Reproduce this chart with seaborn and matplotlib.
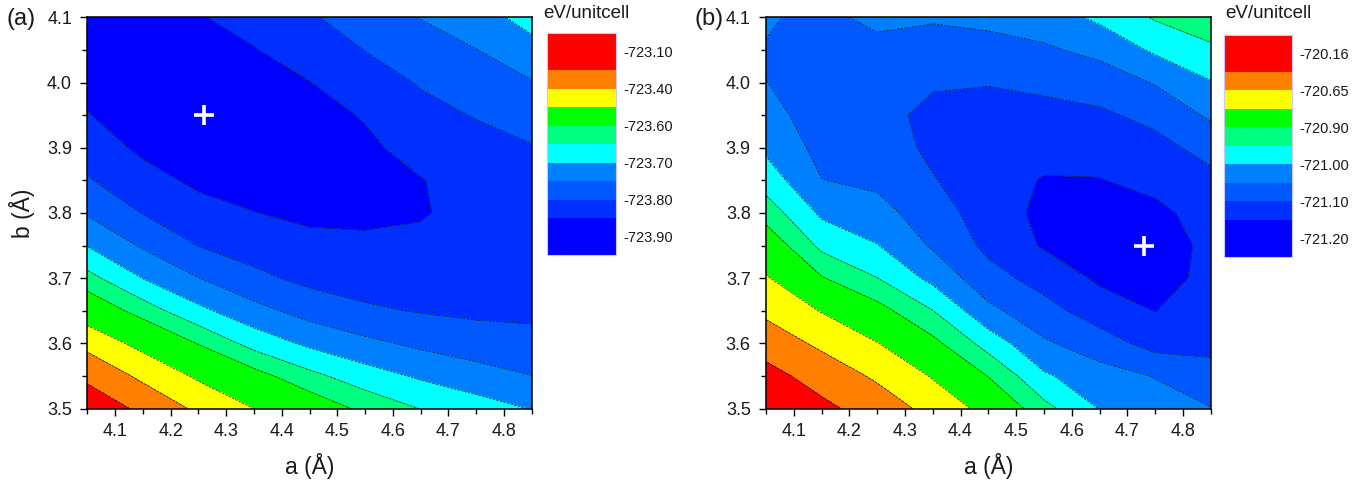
import numpy as np
import matplotlib
matplotlib.use("Agg")
import matplotlib.pyplot as plt
import seaborn as sns
from matplotlib.colors import ListedColormap, BoundaryNorm
from matplotlib.cm import ScalarMappable
from matplotlib.ticker import MultipleLocator

# ---------------- data ----------------
a_vals = [4.05, 4.15, 4.25, 4.35, 4.45, 4.55, 4.65, 4.75, 4.85]
b_vals = [3.50, 3.55, 3.60, 3.65, 3.70, 3.75, 3.80, 3.85, 3.90, 3.95, 4.00, 4.05, 4.10]

# panel (a): one list per a-column, values from b=3.50 up to b=4.10 (eV/unitcell)
energy_a_cols = [
    [-723.12, -723.29, -723.44, -723.55, -723.633, -723.702, -723.755, -723.796, -723.823, -723.848, -723.865, -723.872, -723.870],
    [-723.29, -723.429, -723.528, -723.624, -723.701, -723.756, -723.802, -723.832, -723.860, -723.875, -723.880, -723.880, -723.875],
    [-723.426, -723.514, -723.603, -723.688, -723.749, -723.801, -723.832, -723.860, -723.875, -723.885, -723.880, -723.870, -723.853],
    [-723.50, -723.579, -723.669, -723.734, -723.788, -723.822, -723.849, -723.868, -723.878, -723.880, -723.872, -723.852, -723.835],
    [-723.56, -723.636, -723.710, -723.769, -723.813, -723.837, -723.860, -723.872, -723.873, -723.865, -723.851, -723.830, -723.805],
    [-723.613, -723.678, -723.738, -723.793, -723.820, -723.843, -723.858, -723.862, -723.858, -723.847, -723.825, -723.799, -723.780],
    [-723.651, -723.707, -723.760, -723.803, -723.823, -723.842, -723.853, -723.852, -723.835, -723.816, -723.796, -723.778, -723.748],
    [-723.677, -723.730, -723.775, -723.810, -723.825, -723.835, -723.838, -723.832, -723.820, -723.797, -723.774, -723.751, -723.723],
    [-723.702, -723.749, -723.788, -723.808, -723.818, -723.822, -723.822, -723.816, -723.803, -723.779, -723.753, -723.718, -723.680],
]

# panel (b)
energy_b_cols = [
    [-720.10, -720.30, -720.527, -720.695, -720.792, -720.859, -720.922, -720.973, -721.010, -721.032, -721.049, -721.052, -721.046],
    [-720.33, -720.52, -720.692, -720.807, -720.896, -720.963, -721.009, -721.049, -721.065, -721.075, -721.078, -721.072, -721.060],
    [-720.53, -720.683, -720.797, -720.880, -720.949, -720.998, -721.033, -721.060, -721.075, -721.085, -721.080, -721.062, -721.040],
    [-720.717, -720.810, -720.885, -720.949, -721.014, -721.056, -721.076, -721.097, -721.110, -721.112, -721.095, -721.070, -721.045],
    [-720.84, -720.902, -720.971, -721.038, -721.082, -721.112, -721.125, -721.130, -721.125, -721.115, -721.098, -721.064, -721.040],
    [-720.934, -720.993, -721.043, -721.082, -721.119, -721.155, -721.162, -721.153, -721.134, -721.114, -721.090, -721.057, -721.025],
    [-721.002, -721.030, -721.076, -721.126, -721.158, -721.170, -721.168, -721.152, -721.131, -721.108, -721.077, -721.037, -720.990],
    [-721.030, -721.052, -721.119, -721.151, -721.172, -721.178, -721.162, -721.136, -721.115, -721.087, -721.047, -720.992, -720.945],
    [-721.048, -721.084, -721.112, -721.125, -721.135, -721.137, -721.130, -721.113, -721.084, -721.042, -721.003, -720.959, -720.920],
]

# contour band limits (lowest band first)
levels_a = [-724.50, -723.85, -723.80, -723.75, -723.70, -723.65, -723.60, -723.50, -723.40, -723.25, -722.50]
levels_b = [-721.50, -721.15, -721.10, -721.05, -721.00, -720.95, -720.90, -720.80, -720.65, -720.40, -719.50]

# colour-scale slots shown in the legend bar (bottom to top)
cbar_bounds_a = [-723.95, -723.90, -723.85, -723.80, -723.75, -723.70, -723.65, -723.60, -723.50, -723.40, -723.25, -723.10, -722.95]
cbar_bounds_b = [-721.25, -721.20, -721.15, -721.10, -721.05, -721.00, -720.95, -720.90, -720.80, -720.65, -720.40, -720.16, -719.92]
cbar_labels_a = [-723.90, -723.80, -723.70, -723.60, -723.40, -723.10]
cbar_labels_b = [-721.20, -721.10, -721.00, -720.90, -720.65, -720.16]

# minima markers
min_a = (4.26, 3.95)
min_b = (4.73, 3.75)

x_ticks = [4.1, 4.2, 4.3, 4.4, 4.5, 4.6, 4.7, 4.8]
y_ticks = [3.5, 3.6, 3.7, 3.8, 3.9, 4.0, 4.1]

# ---------------- style ----------------
sns.set_theme(style="ticks")
plt.rcParams['font.family'] = ['Liberation Sans', 'DejaVu Sans']

band_colors = sns.color_palette(["#0000FF", "#0030FF", "#0058FF", "#0080FF", "#00FFFF",
                                 "#00FF80", "#00FF00", "#FFFF00", "#FF8000", "#FF0000"])
slot_index = [0, 0, 1, 2, 3, 4, 5, 6, 7, 8, 9, 9]

W, H = 1368, 487
fig = plt.figure(figsize=(W / 100, H / 100), dpi=100)


def fx(px):
    return px / W


def fy(py):
    return 1 - py / H


def draw_panel(rect, cols, levels, marker, cax_rect, bounds, labels, panel_label, label_x, title_x, ylabel):
    ax = fig.add_axes(rect)
    A, B = np.meshgrid(a_vals, b_vals)
    E = np.array(cols).T
    ax.contourf(A, B, E, levels=levels, colors=band_colors)
    ax.contour(A, B, E, levels=levels[1:-1], colors='#1a1a1a', linewidths=0.5)
    ax.plot([marker[0]], [marker[1]], marker='+', ms=15, mew=2.6, color='white', linestyle='none')
    ax.set_xlim(4.05, 4.85)
    ax.set_ylim(3.5, 4.1)
    ax.set_xticks(x_ticks)
    ax.set_xticklabels([f"{v:.1f}" for v in x_ticks])
    ax.set_yticks(y_ticks)
    ax.set_yticklabels([f"{v:.1f}" for v in y_ticks])
    ax.xaxis.set_minor_locator(MultipleLocator(0.05))
    ax.yaxis.set_minor_locator(MultipleLocator(0.05))
    ax.tick_params(which='major', direction='out', length=5, width=1.0, labelsize=13,
                   color='black', labelcolor='#1a1a1a', top=False, right=False)
    ax.tick_params(axis='x', which='major', pad=5)
    ax.tick_params(axis='y', which='major', pad=6)
    ax.tick_params(which='minor', direction='out', length=3.5, width=1.0, color='black',
                   top=False, right=False)
    for s in ax.spines.values():
        s.set_linewidth(1.1)
        s.set_color('black')
    ax.set_xlabel("a (Å)", fontsize=16.5, labelpad=10, color='#1a1a1a')
    if ylabel:
        ax.set_ylabel("b (Å)", fontsize=16.5, labelpad=9, color='#1a1a1a')

    cax = fig.add_axes(cax_rect)
    cmap12 = ListedColormap([band_colors[i] for i in slot_index])
    norm = BoundaryNorm(bounds, 12)
    sm = ScalarMappable(norm=norm, cmap=cmap12)
    cb = fig.colorbar(sm, cax=cax, boundaries=bounds, spacing='uniform', ticks=labels)
    cb.ax.minorticks_off()
    cb.ax.set_yticklabels([f"{v:.2f}" for v in labels])
    cb.ax.tick_params(which='both', length=0, labelsize=10.5, pad=5, labelcolor='#1a1a1a')
    cb.outline.set_edgecolor('#c8c8f0')
    cb.outline.set_linewidth(0.8)

    fig.text(fx(title_x), fy(17.5), "eV/unitcell", fontsize=13.5, va='baseline', ha='left',
             color='#1a1a1a')
    fig.text(fx(label_x), fy(8), panel_label, fontsize=17, va='top', ha='left', color='#1a1a1a')
    return ax


draw_panel([fx(87.3), fy(408.7), fx(531.7 - 87.3), (408.7 - 17.3) / H], energy_a_cols, levels_a,
           min_a, [fx(547.3), fy(255), fx(616 - 547.3), (255 - 33.3) / H],
           cbar_bounds_a, cbar_labels_a, "(a)", 6, 543, True)
draw_panel([fx(766.0), fy(408.7), fx(1210.7 - 766.0), (408.7 - 17.3) / H], energy_b_cols, levels_b,
           min_b, [fx(1224), fy(256.7), fx(1292.3 - 1224), (256.7 - 35) / H],
           cbar_bounds_b, cbar_labels_b, "(b)", 694, 1225, False)

fig.savefig("out.png", dpi=100)
